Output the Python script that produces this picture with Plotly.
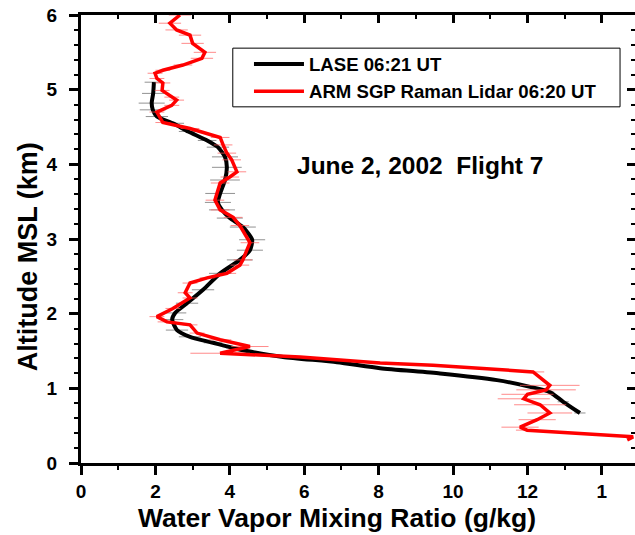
import plotly.graph_objects as go

# LASE 06:21 UT (black) : mixing ratio (g/kg) vs altitude (km)
lase_x = [13.41, 12.96, 12.60, 12.07, 11.18, 9.65, 8.04, 6.88, 5.43, 4.46, 4.09, 3.55, 2.93, 2.58,
          2.45, 2.53, 2.85, 3.28, 3.74, 4.27, 4.54, 4.60, 4.35, 4.00, 3.79, 3.68, 3.74, 3.87, 3.92,
          3.87, 3.68, 3.39, 2.88, 2.47, 2.04, 1.93, 1.90, 1.94, 1.96]
lase_y = [0.67, 0.82, 0.95, 1.02, 1.11, 1.20, 1.27, 1.35, 1.42, 1.50, 1.54, 1.61, 1.69, 1.78,
          1.92, 2.01, 2.14, 2.32, 2.54, 2.72, 2.85, 2.99, 3.16, 3.28, 3.39, 3.49, 3.61, 3.79, 3.96,
          4.10, 4.23, 4.32, 4.44, 4.55, 4.64, 4.73, 4.82, 4.95, 5.10]
lase_err = [0.15, 0.15, 0.12, 0.12, 0.12, 0.12, 0.12, 0.12, 0.12, 0.15, 0.2, 0.25, 0.3, 0.3,
            0.3, 0.3, 0.3, 0.3, 0.3, 0.35, 0.35, 0.35, 0.35, 0.35, 0.35, 0.35, 0.4, 0.4, 0.4,
            0.35, 0.3, 0.25, 0.25, 0.3, 0.3, 0.35, 0.35, 0.3, 0.25]

# ARM SGP Raman Lidar 06:20 UT (red)
raman_x = [14.68, 14.84, 11.99, 11.80, 12.26, 12.60, 12.34, 11.90, 12.00, 12.50, 12.60, 12.15,
           9.46, 8.04, 5.89, 3.74, 4.54, 3.74, 3.12, 2.93, 2.31, 2.04, 2.47, 2.93, 2.80, 2.93,
           3.39, 3.92, 4.27, 4.35, 4.54, 4.27, 4.09, 3.74, 3.60, 3.74, 4.00, 4.19, 4.05, 3.92,
           3.82, 3.74, 2.93, 2.20, 2.04, 2.44, 2.57, 2.44, 2.18, 2.20, 2.04, 1.99, 2.20, 2.74,
           3.25, 3.33, 3.00, 2.93, 2.57, 2.39, 2.66]
raman_y = [0.31, 0.35, 0.44, 0.48, 0.58, 0.67, 0.78, 0.86, 0.92, 0.98, 1.04, 1.22,
           1.31, 1.34, 1.42, 1.47, 1.56, 1.65, 1.74, 1.85, 1.89, 1.96, 2.07, 2.21, 2.28, 2.41,
           2.48, 2.54, 2.65, 2.72, 2.95, 3.18, 3.29, 3.39, 3.52, 3.75, 3.83, 3.90, 4.06, 4.15,
           4.26, 4.36, 4.48, 4.56, 4.70, 4.79, 4.86, 4.90, 4.99, 5.09, 5.15, 5.22, 5.26, 5.33,
           5.42, 5.50, 5.62, 5.73, 5.80, 5.89, 6.00]
raman_err = [0.0, 0.0, 0.3, 0.5, 0.5, 0.6, 0.7, 0.7, 0.7, 0.8, 0.8, 0.3,
             0.1, 0.1, 0.3, 0.8, 0.5, 0.3, 0.2, 0.2, 0.25, 0.2, 0.2, 0.2, 0.2, 0.2,
             0.2, 0.25, 0.25, 0.25, 0.25, 0.25, 0.25, 0.25, 0.25, 0.25, 0.25, 0.25, 0.25, 0.25,
             0.25, 0.25, 0.25, 0.2, 0.2, 0.2, 0.2, 0.2, 0.2, 0.2, 0.2, 0.2, 0.2, 0.25,
             0.3, 0.3, 0.3, 0.3, 0.3, 0.3, 0.3]

x_ticks = [0, 2, 4, 6, 8, 10, 12, 14]
x_ticktext = ["0", "2", "4", "6", "8", "10", "12", "1"]
y_ticks = [0, 1, 2, 3, 4, 5, 6]

FONT = "Liberation Sans, Arial, sans-serif"

fig = go.Figure()
fig.add_trace(go.Scatter(
    x=lase_x, y=lase_y, mode="lines", name="LASE 06:21 UT",
    line=dict(color="black", width=4, shape="spline", smoothing=0.6),
    error_x=dict(type="data", array=lase_err, color="rgba(100,100,100,0.7)", thickness=1, width=0),
))
fig.add_trace(go.Scatter(
    x=raman_x, y=raman_y, mode="lines", name="ARM SGP Raman Lidar 06:20 UT",
    line=dict(color="#ff0000", width=3.5),
    error_x=dict(type="data", array=raman_err, color="rgba(255,90,90,0.7)", thickness=1, width=0),
))
# helper trace for mirrored axes (top / right)
fig.add_trace(go.Scatter(x=[None], y=[None], xaxis="x2", yaxis="y2", showlegend=False,
                         hoverinfo="skip"))

tickfont = dict(family=FONT, size=19, color="black", weight="bold")
fig.update_layout(
    width=635, height=535,
    margin=dict(l=81, r=0, t=15, b=72),
    paper_bgcolor="white", plot_bgcolor="white",
    showlegend=True,
    legend=dict(x=0.3032, y=0.932, xanchor="left", yanchor="top",
                borderwidth=0, bgcolor="rgba(0,0,0,0)",
                font=dict(family=FONT, size=18.6, color="black", weight="bold"),
                itemwidth=50, tracegroupgap=0),
    shapes=[dict(type="rect", xref="paper", yref="paper", x0=0.274, x1=0.973, y0=0.795, y1=0.926,
                 line=dict(color="black", width=1), fillcolor="rgba(0,0,0,0)", layer="below")],
    xaxis=dict(range=[0, 14.89], tickvals=x_ticks, ticktext=x_ticktext,
               showline=True, linecolor="black", linewidth=3,
               ticks="outside", ticklen=9, tickwidth=3, tickcolor="black",
               minor=dict(dtick=1, ticks="outside", ticklen=4, tickwidth=2, tickcolor="black"),
               showgrid=False, zeroline=False, tickfont=tickfont),
    yaxis=dict(range=[0, 6], tickvals=y_ticks,
               showline=True, linecolor="black", linewidth=3,
               ticks="outside", ticklen=9, tickwidth=3, tickcolor="black", ticklabelstandoff=8,
               minor=dict(dtick=0.2, ticks="outside", ticklen=4, tickwidth=2, tickcolor="black"),
               showgrid=False, zeroline=False, tickfont=tickfont),
    xaxis2=dict(overlaying="x", side="top", matches="x", range=[0, 14.89], tickvals=x_ticks,
                showticklabels=False, showline=True, linecolor="black", linewidth=3,
                ticks="inside", ticklen=8, tickwidth=3, tickcolor="black",
                minor=dict(dtick=1, ticks="inside", ticklen=4, tickwidth=2, tickcolor="black"),
                showgrid=False, zeroline=False),
    yaxis2=dict(overlaying="y", side="right", matches="y", range=[0, 6], tickvals=y_ticks,
                showticklabels=False, showline=False,
                ticks="inside", ticklen=8, tickwidth=3, tickcolor="black",
                minor=dict(dtick=0.2, ticks="inside", ticklen=4, tickwidth=2, tickcolor="black"),
                showgrid=False, zeroline=False),
    annotations=[
        dict(text="June 2, 2002  Flight 7", x=9.1, y=3.99, xref="x", yref="y",
             showarrow=False, font=dict(family=FONT, size=24.5, color="black", weight="bold")),
        dict(text="Water Vapor Mixing Ratio (g/kg)", x=0.462, y=-0.1607, xref="paper", yref="paper",
             xanchor="center", yanchor="bottom", showarrow=False,
             font=dict(family=FONT, size=26.5, color="black", weight="bold")),
        dict(text="Altitude MSL (km)", x=-0.095, y=0.46, xref="paper", yref="paper",
             xanchor="center", yanchor="middle", textangle=-90, showarrow=False,
             font=dict(family=FONT, size=27, color="black", weight="bold")),
    ],
)

fig.write_html("out.html", config={"displayModeBar": False},
               post_script="document.body.style.margin='0';document.body.style.overflow='hidden';")
